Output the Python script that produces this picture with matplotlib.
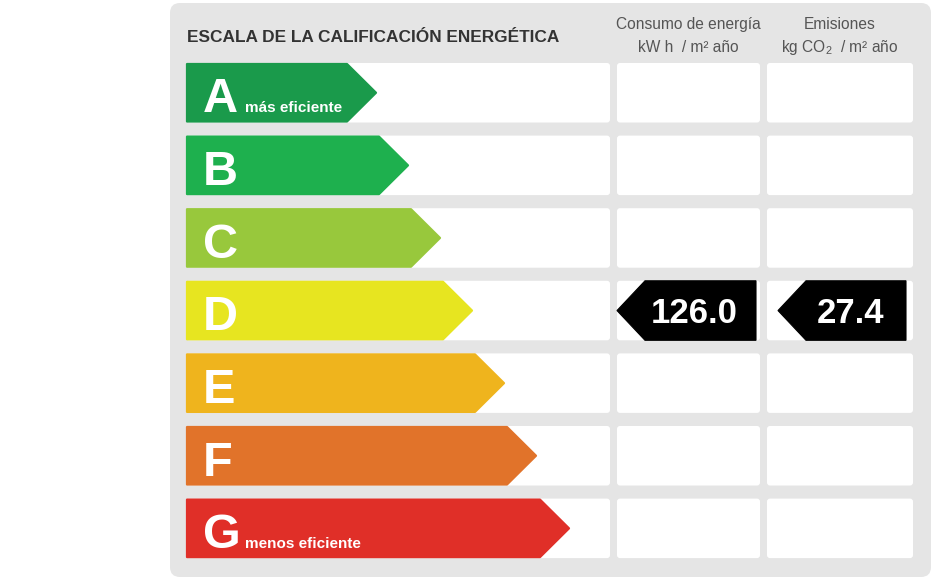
import matplotlib
matplotlib.use('Agg')
import matplotlib.pyplot as plt
from matplotlib.patches import FancyBboxPatch, Polygon

plt.rcParams['font.family'] = ['Liberation Sans', 'DejaVu Sans']
plt.rcParams['mathtext.fontset'] = 'custom'
plt.rcParams['mathtext.rm'] = 'Liberation Sans'

# ---------------- data ----------------
title = 'ESCALA DE LA CALIFICACIÓN ENERGÉTICA'
categories = ['A', 'B', 'C', 'D', 'E', 'F', 'G']
bar_lengths = [191, 223, 255, 287, 319, 351, 384]
bar_colors = ['#1a9a4b', '#1eb04e', '#98c83c', '#e7e520', '#efb41d', '#e1732a', '#e02f28']
sublabels = {'A': 'más eficiente', 'G': 'menos eficiente'}
col_headers = [('Consumo de energía', 'kW h  / m² año'),
               ('Emisiones', r'kg CO$_\mathregular{2}$  / m² año')]
rating = 'D'
consumption = 126.0
emissions = 27.4

# ---------------- layout ----------------
W, H = 933, 578
fig = plt.figure(figsize=(W / 100, H / 100), dpi=100)
ax = fig.add_axes([0, 0, 1, 1])
ax.set_xlim(0, W)
ax.set_ylim(H, 0)
ax.axis('off')

ROW_TOP, PITCH, ROW_H = 63, 72.6, 59.5
BAR_X0, TIP = 186, 30
COLS = [(186, 610), (617, 760), (767, 913)]

ax.add_patch(FancyBboxPatch((170, 3), 761, 574,
                            boxstyle='round,pad=0,rounding_size=10',
                            fc='#e5e5e5', ec='none'))

ax.text(187, 42, title, fontsize=12.4, fontweight='bold', color='#333333',
        ha='left', va='baseline')
for (x0, x1), (l1, l2) in zip(COLS[1:], col_headers):
    cx = (x0 + x1) / 2
    ax.text(cx, 29, l1, fontsize=11.2, color='#555555', ha='center', va='baseline')
    ax.text(cx, 52, l2, fontsize=11.2, color='#555555', ha='center', va='baseline')

for i, (cat, L, col) in enumerate(zip(categories, bar_lengths, bar_colors)):
    top = ROW_TOP + i * PITCH
    bot = top + ROW_H
    mid = (top + bot) / 2
    for x0, x1 in COLS:
        ax.add_patch(FancyBboxPatch((x0, top), x1 - x0, ROW_H,
                                    boxstyle='round,pad=0,rounding_size=3',
                                    fc='white', ec='none'))
    body = BAR_X0 + L - TIP
    ax.add_patch(Polygon([(BAR_X0 + 1, top + 1), (body, top + 1), (BAR_X0 + L - 1, mid),
                          (body, bot - 1), (BAR_X0 + 1, bot - 1)], closed=True,
                         fc=col, ec=col, lw=1.6, joinstyle='round'))
    ax.text(203, top + 49.5, cat, fontsize=35, fontweight='bold', color='white',
            ha='left', va='baseline')
    if cat in sublabels:
        ax.text(245, top + 49, sublabels[cat], fontsize=11, fontweight='bold',
                color='white', ha='left', va='baseline')

# value arrows
ri = categories.index(rating)
top = ROW_TOP + ri * PITCH
bot = top + ROW_H
mid = (top + bot) / 2
for (tip_x, right, cx), val in zip([(617, 756, 694), (778, 906, 850)],
                                   [consumption, emissions]):
    ax.add_patch(Polygon([(tip_x, mid), (tip_x + 28, top), (right, top),
                          (right, bot), (tip_x + 28, bot)], closed=True,
                         fc='black', ec='black', lw=0.8))
    ax.text(cx, top + 42, f'{val:.1f}', fontsize=25, fontweight='bold',
            color='white', ha='center', va='baseline')

fig.savefig('out.png', dpi=100, facecolor='white')
